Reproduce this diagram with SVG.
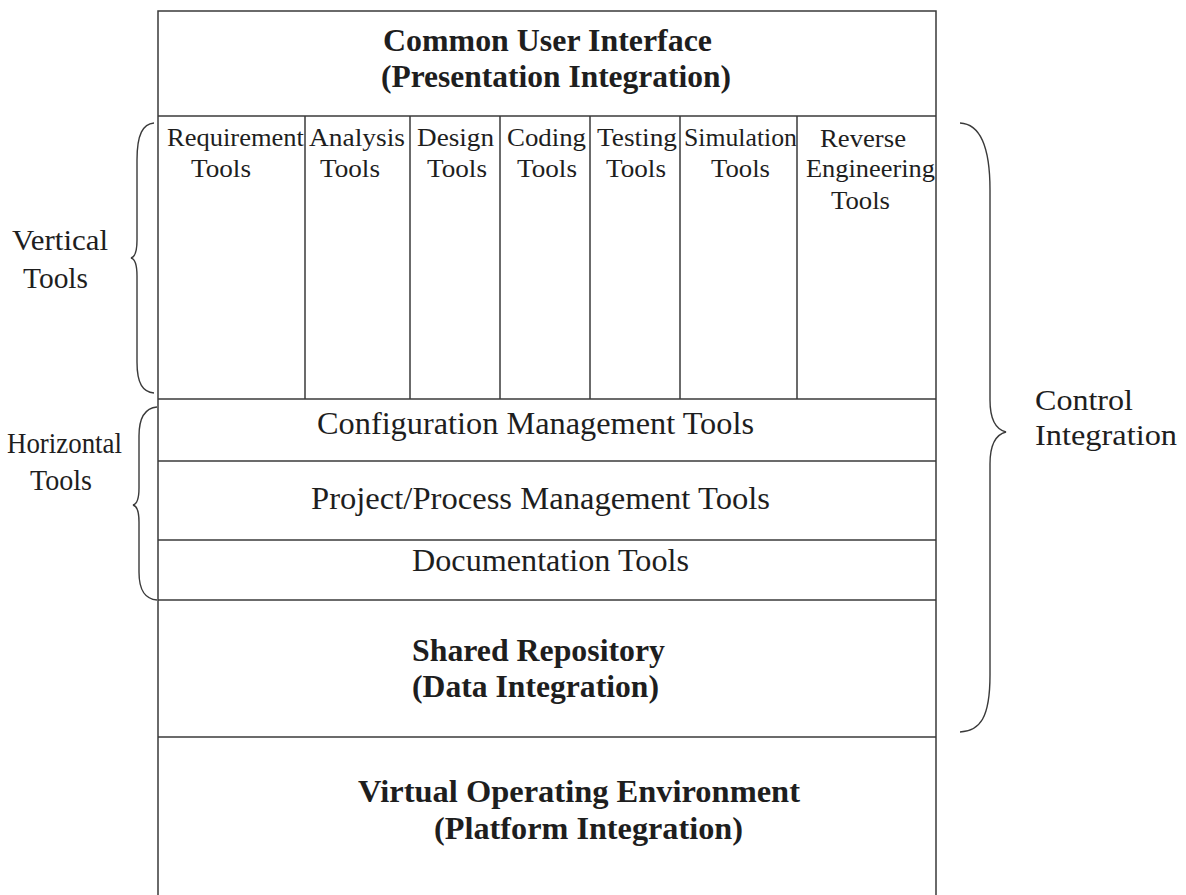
<svg xmlns="http://www.w3.org/2000/svg" width="1186" height="895" viewBox="0 0 1186 895">
<style>
  .ln { stroke: #3a3a3a; stroke-width: 1.5; fill: none; }
  .br { stroke: #3a3a3a; stroke-width: 1.4; fill: none; }
  text { font-family: "Liberation Serif", "Times New Roman", serif; fill: #1e1e1e; }
  .b { font-weight: bold; font-size: 31px; }
  .r { font-size: 31px; }
  .t { font-size: 25px; }
  .lab { font-size: 30px; }
</style>
<rect width="1186" height="895" fill="#ffffff"/>

<g id="frame">
  <path class="ln" d="M158,895 L158,11 L936,11 L936,895"/>
</g>

<g id="cui">
  <line class="ln" x1="158" y1="116" x2="936" y2="116"/>
  <text class="b" x="383" y="51" textLength="329" lengthAdjust="spacingAndGlyphs">Common User Interface</text>
  <text class="b" x="381" y="87" textLength="350" lengthAdjust="spacingAndGlyphs">(Presentation Integration)</text>
</g>

<g id="vertical-tools">
  <g id="col-requirement">
    <text class="t" x="167" y="146" textLength="137" lengthAdjust="spacingAndGlyphs">Requirement</text>
    <text class="t" x="191" y="177" textLength="60" lengthAdjust="spacingAndGlyphs">Tools</text>
  </g>
  <line class="ln" x1="305" y1="116" x2="305" y2="399"/>
  <g id="col-analysis">
    <text class="t" x="309" y="146" textLength="96" lengthAdjust="spacingAndGlyphs">Analysis</text>
    <text class="t" x="320" y="177" textLength="60" lengthAdjust="spacingAndGlyphs">Tools</text>
  </g>
  <line class="ln" x1="410" y1="116" x2="410" y2="399"/>
  <g id="col-design">
    <text class="t" x="417" y="146" textLength="77" lengthAdjust="spacingAndGlyphs">Design</text>
    <text class="t" x="427" y="177" textLength="60" lengthAdjust="spacingAndGlyphs">Tools</text>
  </g>
  <line class="ln" x1="500" y1="116" x2="500" y2="399"/>
  <g id="col-coding">
    <text class="t" x="507" y="146" textLength="79" lengthAdjust="spacingAndGlyphs">Coding</text>
    <text class="t" x="517" y="177" textLength="60" lengthAdjust="spacingAndGlyphs">Tools</text>
  </g>
  <line class="ln" x1="590" y1="116" x2="590" y2="399"/>
  <g id="col-testing">
    <text class="t" x="597" y="146" textLength="80" lengthAdjust="spacingAndGlyphs">Testing</text>
    <text class="t" x="606" y="177" textLength="60" lengthAdjust="spacingAndGlyphs">Tools</text>
  </g>
  <line class="ln" x1="680" y1="116" x2="680" y2="399"/>
  <g id="col-simulation">
    <text class="t" x="684" y="146" textLength="113" lengthAdjust="spacingAndGlyphs">Simulation</text>
    <text class="t" x="711" y="177" textLength="59" lengthAdjust="spacingAndGlyphs">Tools</text>
  </g>
  <line class="ln" x1="797" y1="116" x2="797" y2="399"/>
  <g id="col-reverse">
    <text class="t" x="820" y="147" textLength="86" lengthAdjust="spacingAndGlyphs">Reverse</text>
    <text class="t" x="806" y="177" textLength="129" lengthAdjust="spacingAndGlyphs">Engineering</text>
    <text class="t" x="831" y="209" textLength="59" lengthAdjust="spacingAndGlyphs">Tools</text>
  </g>
</g>

<g id="config-mgmt">
  <line class="ln" x1="158" y1="399" x2="936" y2="399"/>
  <text class="r" x="317" y="434" textLength="437" lengthAdjust="spacingAndGlyphs">Configuration Management Tools</text>
</g>
<g id="project-mgmt">
  <line class="ln" x1="158" y1="461" x2="936" y2="461"/>
  <text class="r" x="311" y="509" textLength="459" lengthAdjust="spacingAndGlyphs">Project/Process Management Tools</text>
</g>
<g id="documentation">
  <line class="ln" x1="158" y1="540" x2="936" y2="540"/>
  <text class="r" x="412" y="571" textLength="277" lengthAdjust="spacingAndGlyphs">Documentation Tools</text>
</g>
<g id="repository">
  <line class="ln" x1="158" y1="600" x2="936" y2="600"/>
  <text class="b" x="412" y="661" textLength="253" lengthAdjust="spacingAndGlyphs">Shared Repository</text>
  <text class="b" x="412" y="697" textLength="247" lengthAdjust="spacingAndGlyphs">(Data Integration)</text>
</g>
<g id="platform">
  <line class="ln" x1="158" y1="737" x2="936" y2="737"/>
  <text class="b" x="358" y="802" textLength="442" lengthAdjust="spacingAndGlyphs">Virtual Operating Environment</text>
  <text class="b" x="434" y="839" textLength="309" lengthAdjust="spacingAndGlyphs">(Platform Integration)</text>
</g>

<g id="label-vertical">
  <text class="lab" x="12" y="250" textLength="96" lengthAdjust="spacingAndGlyphs">Vertical</text>
  <text class="lab" x="23" y="288" textLength="65" lengthAdjust="spacingAndGlyphs">Tools</text>
</g>
<g id="label-horizontal">
  <text class="lab" x="7" y="453" textLength="115" lengthAdjust="spacingAndGlyphs">Horizontal</text>
  <text class="lab" x="30" y="490" textLength="62" lengthAdjust="spacingAndGlyphs">Tools</text>
</g>
<g id="label-control">
  <text class="lab" x="1035" y="410" textLength="98" lengthAdjust="spacingAndGlyphs">Control</text>
  <text class="lab" x="1035" y="445" textLength="142" lengthAdjust="spacingAndGlyphs">Integration</text>
</g>

<g id="connectors">
  <path class="br" d="M154,123 C143,124 137,134 137,160 L137,240 C137,252 135,257 131,258 C135,259 137,264 137,276 L137,362 C137,384 143,392 154,393"/>
  <path class="br" d="M157,407 C146,408 139,416 139,436 L139,488 C139,499 137,504 133,505 C137,506 139,511 139,522 L139,572 C139,592 146,599 157,600"/>
  <path class="br" d="M960,123 C980,124 990,145 990,190 L990,400 C990,422 998,430 1006,432 C998,434 990,442 990,464 L990,675 C990,718 980,731 960,732"/>
</g>
</svg>
